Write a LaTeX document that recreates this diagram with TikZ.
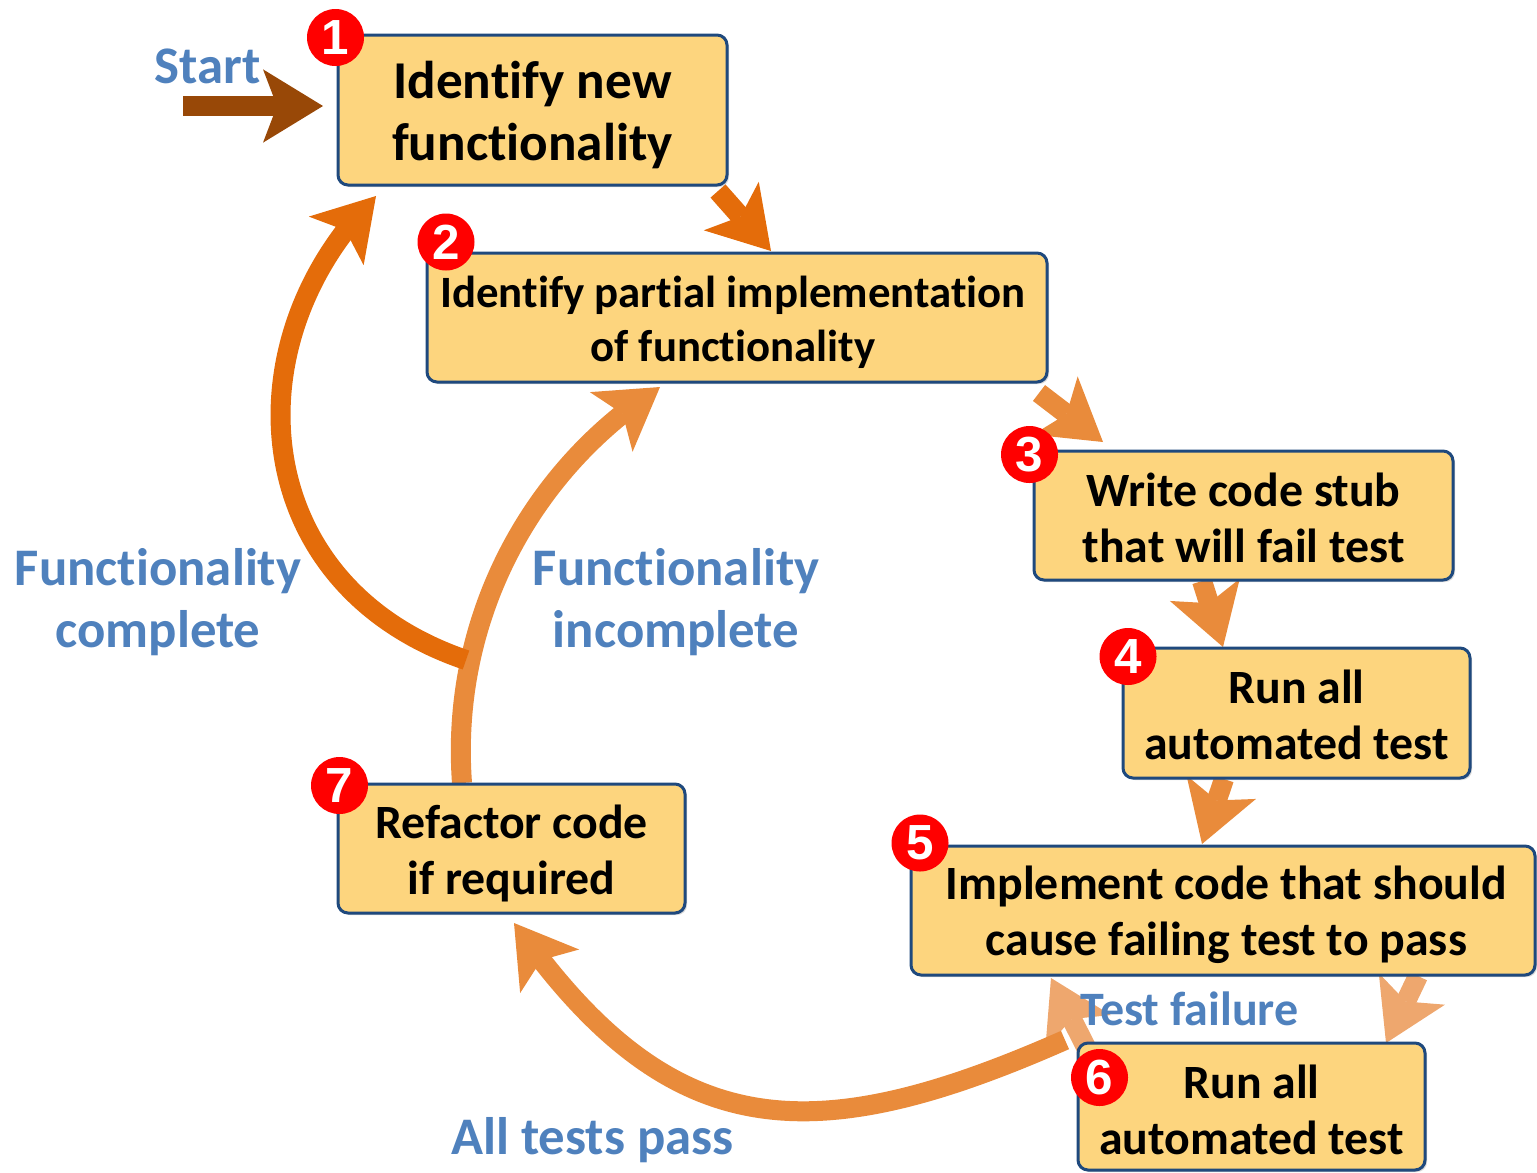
\documentclass[tikz,border=0pt]{standalone}
\usepackage{fontspec}
\setmainfont{Carlito}[Ligatures=NoCommon]
\newfontfamily\numfont{Liberation Sans}
\usetikzlibrary{arrows.meta,bending,shadows}
\definecolor{boxfill}{RGB}{253,213,126}
\definecolor{boxline}{RGB}{31,73,125}
\definecolor{lblue}{RGB}{79,129,189}
\definecolor{darkor}{RGB}{228,108,10}
\definecolor{midor}{RGB}{233,139,59}
\definecolor{lightor}{RGB}{238,167,110}
\definecolor{brownar}{RGB}{152,72,7}
\begin{document}
\begin{tikzpicture}[x=0.75pt,y=-0.75pt,
 stepbox/.style={draw=boxline, line width=2.25pt, fill=boxfill, rounded corners=7.5pt, inner sep=0pt,
   drop shadow={shadow xshift=1.5pt, shadow yshift=-1.5pt, opacity=0.3}},
 boxtext/.style={align=center, inner sep=0pt, font=\bfseries\fontsize{35.85pt}{42pt}\selectfont},
 numdot/.style={circle, fill=red, text=white, inner sep=0pt, minimum size=42.75pt,
   font=\numfont\bfseries\fontsize{37pt}{37pt}\selectfont},
 lbl/.style={text=lblue, align=center, inner sep=0pt, font=\bfseries\fontsize{39.6pt}{47pt}\selectfont},
 blockarrow/.style={line width=15pt, -{Stealth[length=45pt, width=55pt, inset=10.5pt, line width=0pt, flex]}},
]
\useasboundingbox (0,0) rectangle (1537,1172);

% connector end points
\coordinate (s0) at (183,106);   \coordinate (s1) at (323,106);
\coordinate (a12s) at (718,191); \coordinate (a12e) at (771,251);
\coordinate (a23s) at (1039,393); \coordinate (a23e) at (1103,442);
\coordinate (a34s) at (1202,581); \coordinate (a34e) at (1223,647);
\coordinate (a45s) at (1224,779); \coordinate (a45e) at (1202,844);
\coordinate (a56s) at (1418,976); \coordinate (a56e) at (1386,1043);
\coordinate (a65s) at (1095,1065); \coordinate (a65e) at (1051,978);
\coordinate (a67s) at (1065,1040); \coordinate (a67e) at (514,923);
\coordinate (a72s) at (462,783); \coordinate (a72e) at (660,387);
\coordinate (afcs) at (466,660); \coordinate (afce) at (376,196);

% connectors
\draw[blockarrow, brownar] (s0) -- (s1);
\draw[blockarrow, darkor] (a12s) -- (a12e);
\draw[blockarrow, midor] (a23s) -- (a23e);
\draw[blockarrow, midor] (a34s) -- (a34e);
\draw[blockarrow, midor] (a45s) -- (a45e);
\draw[blockarrow, lightor] (a56s) -- (a56e);
\draw[blockarrow, lightor] (a65s) -- (a65e);
\draw[blockarrow, midor] (a67s) .. controls (809,1153) and (669,1144) .. (a67e);
\draw[blockarrow, midor] (a72s) .. controls (450,620) and (530,470) .. (a72e);
\draw[blockarrow, darkor] (afcs) .. controls (245,585) and (230,340) .. (afce);

% boxes
\node[stepbox, minimum width=291.75pt, minimum height=112.5pt] (b1) at (532.5,110) {};
\node[stepbox, minimum width=465pt, minimum height=96.75pt] (b2) at (737,317.5) {};
\node[stepbox, minimum width=314.25pt, minimum height=96.75pt] (b3) at (1243.5,515.5) {};
\node[stepbox, minimum width=260.25pt, minimum height=97.5pt] (b4) at (1296.5,713) {};
\node[stepbox, minimum width=468pt, minimum height=96.75pt] (b5) at (1223,910.5) {};
\node[stepbox, minimum width=260.25pt, minimum height=95.25pt] (b6) at (1251.5,1106.5) {};
\node[stepbox, minimum width=260.25pt, minimum height=96.75pt] (b7) at (511.5,848.5) {};

% box texts
\node[boxtext, font=\bfseries\fontsize{39.9pt}{46.5pt}\selectfont] (t1) at ([yshift=-3.75pt]b1.center) {Identify new\\functionality};
\node[boxtext, font=\bfseries\fontsize{33.6pt}{40.5pt}\selectfont] (t2) at ([xshift=-3pt,yshift=-3.75pt]b2.center) {Identify partial implementation\\of functionality};
\node[boxtext] (t3) at ([yshift=-1.5pt]b3.center) {Write code stub\\that will fail test};
\node[boxtext] (t4) at ([yshift=-1.2pt]b4.center) {Run all\\automated test};
\node[boxtext] (t5) at ([xshift=2.5pt,yshift=-3pt]b5.center) {Implement code that should\\cause failing test to pass};
\node[boxtext] (t6) at ([yshift=-2.25pt]b6.center) {Run all\\automated test};
\node[boxtext] (t7) at ([yshift=-3.75pt]b7.center) {Refactor code\\if required};

% number badges
\node[numdot] (n1) at (335.5,37.5) {1};
\node[numdot] (n2) at (446,242) {2};
\node[numdot] (n3) at (1029.5,454.5) {3};
\node[numdot] (n4) at (1128,656.5) {4};
\node[numdot] (n5) at (920,843) {5};
\node[numdot] (n6) at (1099.5,1077.5) {6};
\node[numdot] (n7) at (339.5,785.5) {7};

% labels
\node[lbl] (lstart) at (207.5,66.5) {Start};
\node[lbl] (lfc) at (158,602) {Functionality\\complete};
\node[lbl] (lfi) at (676,602) {Functionality\\incomplete};
\node[lbl, font=\bfseries\fontsize{36pt}{40pt}\selectfont] (ltf) at (1189.5,1009) {Test failure};
\node[lbl] (latp) at (592.5,1140) {All tests pass};
\end{tikzpicture}
\end{document}
